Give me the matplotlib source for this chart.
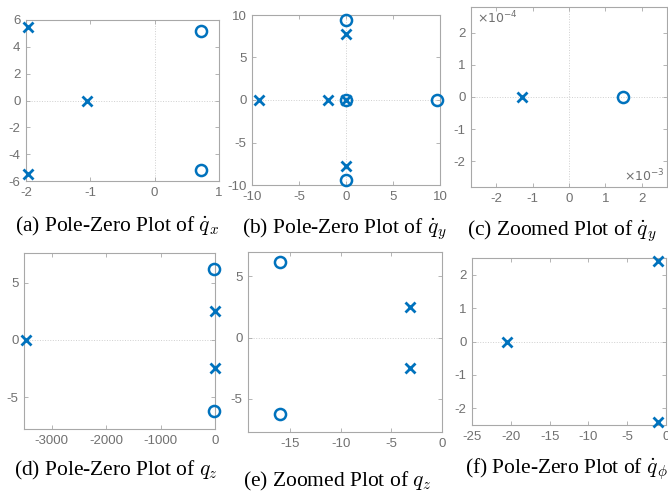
import numpy as np
import matplotlib
matplotlib.use("Agg")
import matplotlib.pyplot as plt

plt.rcParams["font.family"] = ["Liberation Sans", "DejaVu Sans"]
plt.rcParams["mathtext.fontset"] = "cm"

BLUE = "#0072BD"
AX_GRAY = "#a8a8a8"
TXT_GRAY = "#707070"

qx_poles_re = [-1.97, -1.97, -1.05]
qx_poles_im = [5.45, -5.45, 0.0]
qx_zeros_re = [0.72, 0.72]
qx_zeros_im = [5.15, -5.15]

qy_poles_re = [-9.3, -1.9, 0.0, 0.0, 0.0]
qy_poles_im = [0.0, 0.0, 0.0, 7.8, -7.8]
qy_zeros_re = [0.0, 0.0, 0.0, 9.7]
qy_zeros_im = [9.4, -9.4, 0.0, 0.0]

# zoomed view near the origin
qy_zoom_poles_re = [-1.3e-3]
qy_zoom_poles_im = [0.0]
qy_zoom_zeros_re = [1.5e-3]
qy_zoom_zeros_im = [0.0]

qz_poles_re = [-3475.0, -3.2, -3.2]
qz_poles_im = [0.0, 2.5, -2.5]
qz_zeros_re = [-16.0, -16.0]
qz_zeros_im = [6.2, -6.2]

qphi_poles_re = [-20.5, -1.0, -1.0]
qphi_poles_im = [0.0, 2.4, -2.4]

captions = [
    r"(a) Pole-Zero Plot of $\dot{q}_x$",
    r"(b) Pole-Zero Plot of $\dot{q}_y$",
    r"(c) Zoomed Plot of $\dot{q}_y$",
    r"(d) Pole-Zero Plot of $q_z$",
    r"(e) Zoomed Plot of $q_z$",
    r"(f) Pole-Zero Plot of $\dot{q}_\phi$",
]

W, H = 668, 491
fig = plt.figure(figsize=(W / 100, H / 100), dpi=100)


def make_ax(left, right, top, bottom):
    return fig.add_axes([left / W, 1 - bottom / H, (right - left) / W, (bottom - top) / H])


def style(ax, xlim, ylim, xticks, yticks):
    ax.set_xlim(xlim)
    ax.set_ylim(ylim)
    ax.set_xticks(xticks)
    ax.set_yticks(yticks)
    ax.set_xticklabels([f"{t:g}" for t in xticks])
    ax.set_yticklabels([f"{t:g}" for t in yticks])
    for s in ax.spines.values():
        s.set_color(AX_GRAY)
        s.set_linewidth(0.8)
    ax.tick_params(direction="in", top=True, right=True, length=3, width=0.6,
                   color=AX_GRAY, labelcolor=TXT_GRAY, labelsize=9.5, pad=4)
    ax.axhline(0, color="#cfcfcf", lw=0.7, ls=":", zorder=0)
    ax.axvline(0, color="#cfcfcf", lw=0.7, ls=":", zorder=0)


def pz(ax, pre, pim, zre=None, zim=None):
    ax.plot(pre, pim, ls="none", marker="x", ms=6.5, mew=2, color=BLUE, clip_on=False, zorder=3)
    if zre is not None:
        ax.plot(zre, zim, ls="none", marker="o", ms=8, mew=1.8, mfc="none", color=BLUE,
                clip_on=False, zorder=3)


ax = make_ax(26, 219, 20, 181)
pz(ax, qx_poles_re, qx_poles_im, qx_zeros_re, qx_zeros_im)
style(ax, (-2, 1), (-6, 6), [-2, -1, 0, 1], [-6, -4, -2, 0, 2, 4, 6])

ax = make_ax(252, 440, 15, 185)
pz(ax, qy_poles_re, qy_poles_im, qy_zeros_re, qy_zeros_im)
style(ax, (-10, 10), (-10, 10), [-10, -5, 0, 5, 10], [-10, -5, 0, 5, 10])

ax = make_ax(471, 667, 7, 187)
pz(ax, np.array(qy_zoom_poles_re) / 1e-3, np.array(qy_zoom_poles_im) / 1e-4,
   np.array(qy_zoom_zeros_re) / 1e-3, np.array(qy_zoom_zeros_im) / 1e-4)
style(ax, (-2.7, 2.7), (-2.8, 2.8), [-2, -1, 0, 1, 2], [-2, -1, 0, 1, 2])
ax.text(0.03, 0.985, r"$\times10^{-4}$", transform=ax.transAxes, ha="left", va="top",
        color=TXT_GRAY, fontsize=9, math_fontfamily="dejavusans")
ax.text(0.99, 0.015, r"$\times10^{-3}$", transform=ax.transAxes, ha="right", va="bottom",
        color=TXT_GRAY, fontsize=9, math_fontfamily="dejavusans")

ax = make_ax(24, 215, 253, 429)
pz(ax, qz_poles_re, qz_poles_im, qz_zeros_re, qz_zeros_im)
style(ax, (-3510, 0), (-7.8, 7.6), [-3000, -2000, -1000, 0], [-5, 0, 5])

ax = make_ax(248, 442, 252, 432)
pz(ax, qz_poles_re[1:], qz_poles_im[1:], qz_zeros_re, qz_zeros_im)
style(ax, (-19.2, 0), (-7.7, 7.0), [-15, -10, -5, 0], [-5, 0, 5])

ax = make_ax(472, 666, 258, 425)
pz(ax, qphi_poles_re, qphi_poles_im)
style(ax, (-25, 0), (-2.5, 2.5), [-25, -20, -15, -10, -5, 0], [-2, -1, 0, 1, 2])

cap_pos = [(117, 226), (345, 229), (562, 231), (116, 470), (337, 481), (566, 469)]
for (cx, cy), txt in zip(cap_pos, captions):
    fig.text(cx / W, 1 - cy / H, txt, ha="center", va="center", fontsize=15.5,
             family=["Liberation Serif", "DejaVu Serif"])

fig.savefig("out.png", dpi=100)
